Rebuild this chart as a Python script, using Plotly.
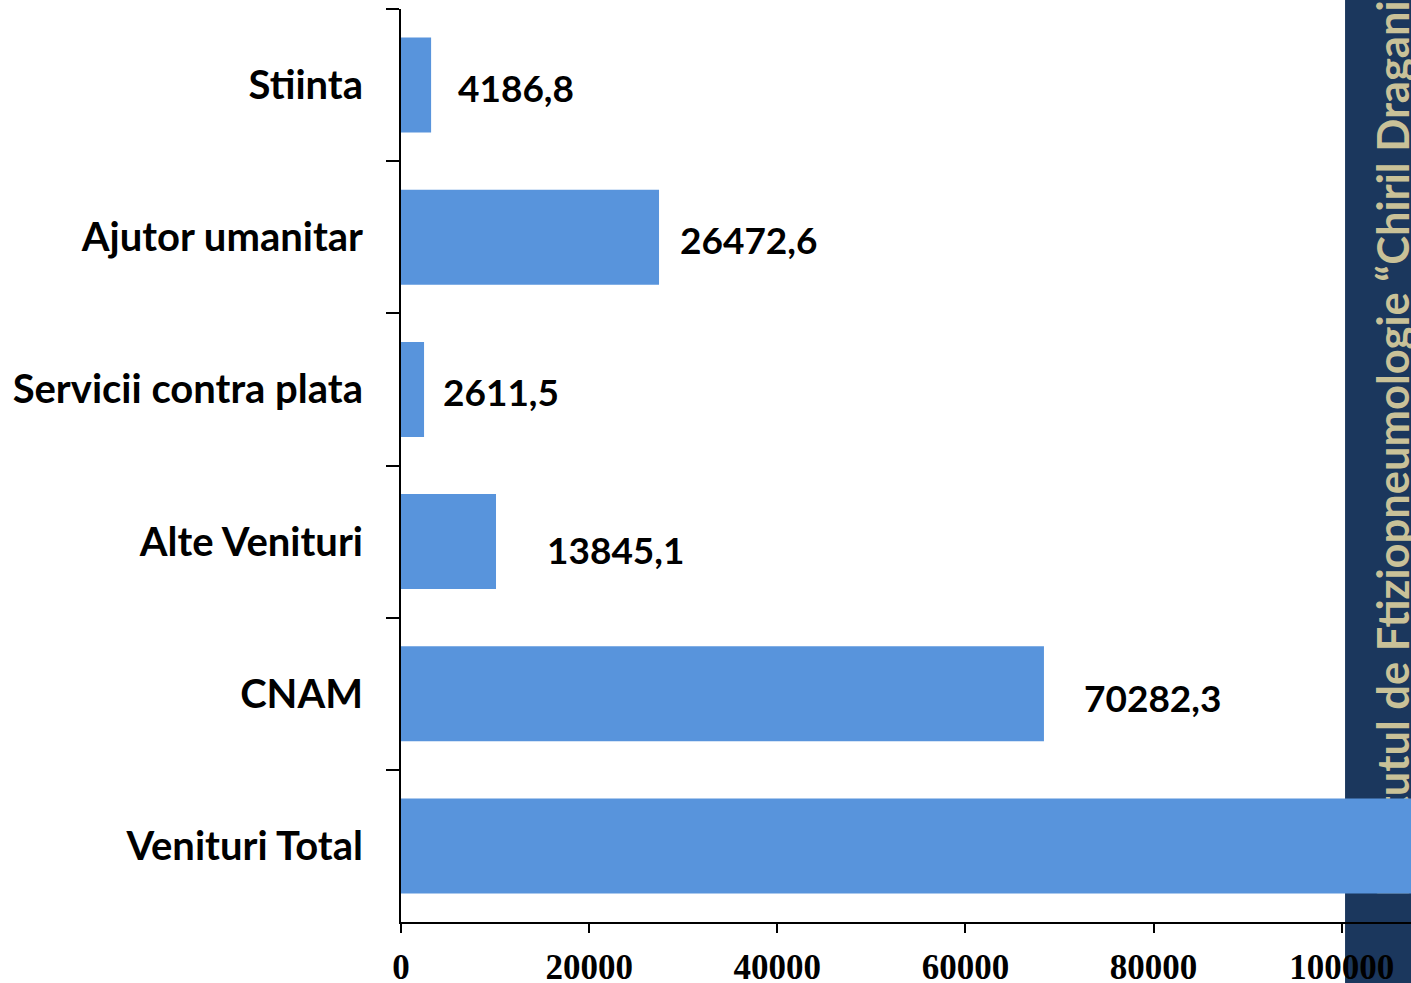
import plotly.graph_objects as go

# ---- data ----
categories = ["Stiinta", "Ajutor umanitar", "Servicii contra plata",
              "Alte Venituri", "CNAM", "Venituri Total"]
bar_values = [3200, 27430, 2450, 10100, 68350, 117398.3]
value_labels = ["4186,8", "26472,6", "2611,5", "13845,1", "70282,3", ""]
x_tickvals = [0, 20000, 40000, 60000, 80000, 100000]
x_ticktext = ["0", "20000", "40000", "60000", "80000", "100000"]
band_text = "Institutul de Ftiziopneumologie “Chiril Draganiuc”"

# ---- styles ----
BAR = "#5894DC"
NAVY = "#1B375D"
BEIGE = "#C9C198"
label_xshift = [25, 19, 17, 49, 38, 0]
label_yshift = [-2, -2, -2, -8, -4, 0]

fig = go.Figure()
fig.add_trace(go.Bar(
    x=bar_values, y=categories, orientation="h",
    marker=dict(color=BAR, line=dict(width=0)),
    hoverinfo="skip", showlegend=False,
))
# empty helper trace so the overlaying axis (band caption) is created
fig.add_trace(go.Scatter(x=[], y=[], yaxis="y2", mode="markers",
                         hoverinfo="skip", showlegend=False))

for cat, val, lab, dx, dy in zip(categories, bar_values, value_labels,
                                 label_xshift, label_yshift):
    if lab:
        fig.add_annotation(
            x=val, y=cat, xref="x", yref="y", text=lab, showarrow=False,
            xanchor="left", yanchor="middle", xshift=dx, yshift=dy,
            font=dict(family="Lato", size=37, color="black", weight="bold"),
        )

# navy band at the right edge (slide decoration)
fig.add_shape(type="rect", xref="paper", yref="paper",
              x0=0.9347, x1=1.02, y0=-0.2, y1=1.05,
              fillcolor=NAVY, line=dict(width=0), layer="below")

fig.update_layout(
    width=1411, height=983, autosize=False,
    margin=dict(l=401, r=0, t=9, b=61, pad=0),
    paper_bgcolor="white", plot_bgcolor="rgba(0,0,0,0)",
    bargap=0.376, showlegend=False,
    xaxis=dict(
        range=[0, 107370], tickvals=x_tickvals, ticktext=x_ticktext,
        ticks="outside", ticklen=9, tickwidth=2, tickcolor="black",
        showline=True, linewidth=2, linecolor="black",
        showgrid=False, zeroline=False, automargin=False,
        tickfont=dict(family="Liberation Serif", size=35, color="black",
                      weight="bold"),
        ticklabelstandoff=4,
    ),
    yaxis=dict(
        type="category", categoryorder="array", categoryarray=categories,
        autorange="reversed",
        ticks="outside", ticklen=13, tickwidth=2, tickcolor="black",
        tickson="boundaries",
        showline=True, linewidth=2, linecolor="black",
        showgrid=False, zeroline=False, automargin=False,
        tickfont=dict(family="Lato", size=40, color="black", weight="bold"),
        ticklabelstandoff=28,
    ),
    yaxis2=dict(
        overlaying="y", anchor="free", side="right", position=0.954,
        range=[0, 913], tickvals=[498], ticktext=[band_text],
        tickangle=-90, ticks="", showline=False, showgrid=False,
        zeroline=False, layer="below traces", automargin=False,
        ticklabeloverflow="allow",
        tickfont=dict(family="Lato", size=43.5, color=BEIGE, weight="bold"),
    ),
)

fig.write_html(
    "out.html",
    config={"displayModeBar": False, "staticPlot": True},
    post_script="document.body.style.margin='0';document.body.style.overflow='hidden';",
)
